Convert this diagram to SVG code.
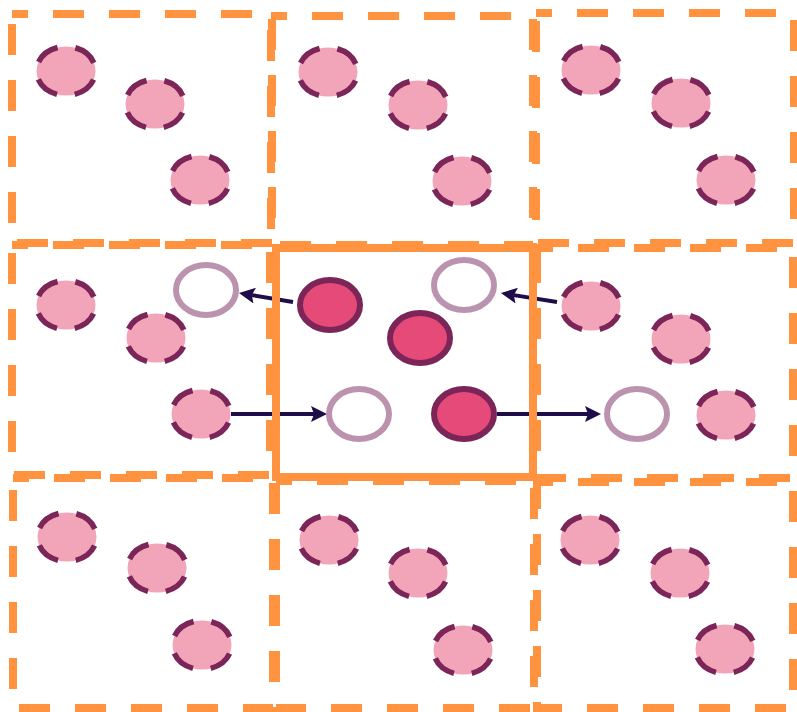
<svg xmlns="http://www.w3.org/2000/svg" width="797" height="712" viewBox="0 0 797 712">
<defs>
<style>
.cell{fill:none;stroke:#ff9340;stroke-width:8;stroke-dasharray:31 25;stroke-dashoffset:15}
.main{fill:none;stroke:#ff9340;stroke-width:8}
.img{fill:#f2a4b9;stroke:#7b2558;stroke-width:5.5;stroke-dasharray:24.5 18;stroke-dashoffset:33.5}
.real{fill:#e64a78;stroke:#7b2558;stroke-width:6}
.ghost{fill:#ffffff;stroke:#bc93ae;stroke-width:6}
.arrow{fill:none;stroke:#1f0d4a;stroke-width:4;marker-end:url(#ah)}
</style>
<marker id="ah" viewBox="0 0 16 16" refX="3" refY="8" markerWidth="16" markerHeight="16" markerUnits="userSpaceOnUse" orient="auto">
<path d="M0,0 L16,8 L0,16 L3,8 z" fill="#1f0d4a"/>
</marker>
</defs>
<rect width="797" height="712" fill="#ffffff"/>
<g id="connectors">
<line class="arrow" x1="293" y1="302" x2="251.8" y2="295.1"/>
<line class="arrow" x1="557" y1="302" x2="513.8" y2="295.1"/>
<line class="arrow" x1="231" y1="414" x2="314" y2="414"/>
<line class="arrow" x1="497" y1="414" x2="588" y2="414"/>
</g>
<g id="cell-top-left">
<rect class="cell" x="12" y="14" width="260" height="229"/>
<ellipse class="img" cx="66" cy="71" rx="29.5" ry="24.5"/>
<ellipse class="img" cx="155" cy="104" rx="29.5" ry="24.5"/>
<ellipse class="img" cx="200" cy="180" rx="29.5" ry="24.5"/>
</g>
<g id="cell-top-middle">
<rect class="cell" x="271" y="16" width="262" height="229"/>
<ellipse class="img" cx="328" cy="72" rx="29.5" ry="24.5"/>
<ellipse class="img" cx="418" cy="105" rx="29.5" ry="24.5"/>
<ellipse class="img" cx="462" cy="181" rx="29.5" ry="24.5"/>
</g>
<g id="cell-top-right">
<rect class="cell" x="536" y="13" width="258" height="230"/>
<ellipse class="img" cx="591" cy="70" rx="29.5" ry="24.5"/>
<ellipse class="img" cx="681" cy="103" rx="29.5" ry="24.5"/>
<ellipse class="img" cx="726" cy="180" rx="29.5" ry="24.5"/>
</g>
<g id="cell-middle-left">
<rect class="cell" x="12" y="245" width="258" height="230"/>
<ellipse class="img" cx="66" cy="305" rx="29.5" ry="24.5"/>
<ellipse class="img" cx="156" cy="338" rx="29.5" ry="24.5"/>
<ellipse class="img" cx="201" cy="414" rx="29.5" ry="24.5"/>
<ellipse class="ghost" cx="206" cy="290" rx="30" ry="25"/>
</g>
<g id="cell-middle-right">
<rect class="cell" x="537" y="248" width="256" height="230"/>
<ellipse class="img" cx="591" cy="306" rx="29.5" ry="24.5"/>
<ellipse class="img" cx="681" cy="339" rx="29.5" ry="24.5"/>
<ellipse class="img" cx="726" cy="415" rx="29.5" ry="24.5"/>
<ellipse class="ghost" cx="637" cy="414" rx="30" ry="25"/>
</g>
<g id="cell-bottom-left">
<rect class="cell" x="13" y="478" width="260" height="230"/>
<ellipse class="img" cx="67" cy="537" rx="29.5" ry="24.5"/>
<ellipse class="img" cx="157" cy="568" rx="29.5" ry="24.5"/>
<ellipse class="img" cx="202" cy="645" rx="29.5" ry="24.5"/>
</g>
<g id="cell-bottom-middle">
<rect class="cell" x="276" y="481" width="258" height="227"/>
<ellipse class="img" cx="329" cy="540" rx="29.5" ry="24.5"/>
<ellipse class="img" cx="418" cy="573" rx="29.5" ry="24.5"/>
<ellipse class="img" cx="463" cy="650" rx="29.5" ry="24.5"/>
</g>
<g id="cell-bottom-right">
<rect class="cell" x="537" y="482" width="256" height="226"/>
<ellipse class="img" cx="590" cy="540" rx="29.5" ry="24.5"/>
<ellipse class="img" cx="680" cy="573" rx="29.5" ry="24.5"/>
<ellipse class="img" cx="725" cy="649" rx="29.5" ry="24.5"/>
</g>
<g id="cell-center">
<rect class="main" x="276" y="248" width="257" height="229"/>
<ellipse class="real" cx="330" cy="305" rx="30" ry="25"/>
<ellipse class="real" cx="420" cy="338" rx="30" ry="25"/>
<ellipse class="real" cx="464" cy="414" rx="30" ry="25"/>
<ellipse class="ghost" cx="464" cy="285" rx="30" ry="25"/>
<ellipse class="ghost" cx="359" cy="414" rx="30" ry="25"/>
</g>
</svg>
